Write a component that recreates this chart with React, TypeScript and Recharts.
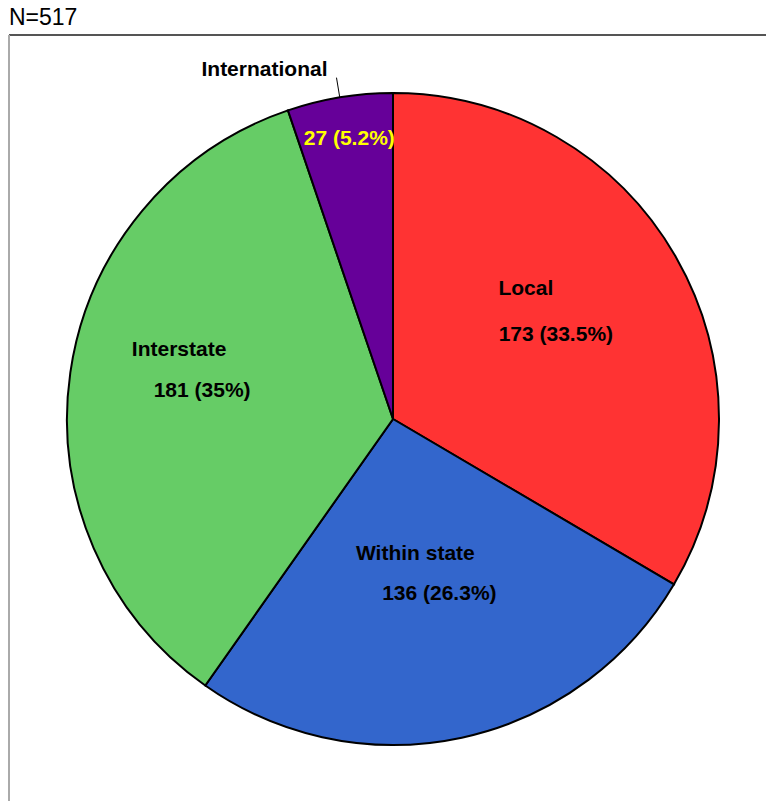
import React from 'react';
import { PieChart, Pie, Cell } from 'recharts';

// Trip destination breakdown
const categories = ['Local', 'Within state', 'Interstate', 'International'];
const counts = [173, 136, 181, 27];
const percentLabels = ['33.5%', '26.3%', '35%', '5.2%'];
const sliceColors = ['#FF3333', '#3366CC', '#66CC66', '#660099'];
const valueTextColors = ['#000000', '#000000', '#000000', '#FFFF00'];
const totalLabel = 'N=517';

const data = categories.map((name, i) => ({
  name,
  value: counts[i],
  pct: percentLabels[i],
}));

const FONT = '"Liberation Sans", Arial, Helvetica, sans-serif';
const RAD = Math.PI / 180;

// Per-slice label placement: anchor radius along the slice mid-angle, then
// offsets for the name line and the value line (dx, baseline dy).
type LabelLayout = {
  r: number;
  name: [number, number];
  value: [number, number];
  outsideName?: boolean;
};
const labelLayout: LabelLayout[] = [
  { r: 183, name: [-26, -33], value: [4, 13] },
  { r: 158, name: [-11, -13], value: [13, 27] },
  { r: 208, name: [-8, -33], value: [15, 8] },
  { r: 286, name: [-9, -1.5], value: [3, 8], outsideName: true },
];

const renderLabel = (props: any) => {
  const { cx, cy, midAngle, outerRadius, index } = props;
  const layout = labelLayout[index];
  const cos = Math.cos(-midAngle * RAD);
  const sin = Math.sin(-midAngle * RAD);
  const ax = cx + layout.r * cos;
  const ay = cy + layout.r * sin;
  const valueText = `${counts[index]} (${percentLabels[index]})`;
  const textStyle = { fontFamily: FONT, fontSize: 21, fontWeight: 700 } as const;

  if (layout.outsideName) {
    const x1 = cx + outerRadius * cos;
    const y1 = cy + outerRadius * sin;
    const x2 = cx + (outerRadius + 20) * cos;
    const y2 = cy + (outerRadius + 20) * sin;
    return (
      <g key={`lbl-${index}`}>
        <line x1={x1} y1={y1} x2={x2} y2={y2} stroke="#000" strokeWidth={1} />
        <text
          x={x2 + layout.name[0]}
          y={y2 + layout.name[1]}
          textAnchor="end"
          fill="#000"
          style={textStyle}
        >
          {categories[index]}
        </text>
        <text
          x={ax + layout.value[0]}
          y={ay + layout.value[1]}
          textAnchor="middle"
          fill={valueTextColors[index]}
          style={textStyle}
        >
          {valueText}
        </text>
      </g>
    );
  }

  return (
    <g key={`lbl-${index}`}>
      <text
        x={ax + layout.name[0]}
        y={ay + layout.name[1]}
        textAnchor="middle"
        fill="#000"
        style={textStyle}
      >
        {categories[index]}
      </text>
      <text
        x={ax + layout.value[0]}
        y={ay + layout.value[1]}
        textAnchor="middle"
        fill={valueTextColors[index]}
        style={textStyle}
      >
        {valueText}
      </text>
    </g>
  );
};

export default function App() {
  return (
    <div
      style={{
        position: 'absolute',
        left: 0,
        top: 0,
        width: 766,
        height: 801,
        background: '#fff',
        overflow: 'hidden',
      }}
    >
      <div
        style={{
          position: 'absolute',
          left: 9,
          top: 4,
          fontFamily: FONT,
          fontSize: 23,
          lineHeight: '27px',
          color: '#000',
        }}
      >
        {totalLabel}
      </div>
      {/* frame edges */}
      <div
        style={{
          position: 'absolute',
          left: 9,
          top: 34,
          width: 757,
          height: 2,
          background: '#555',
        }}
      />
      <div
        style={{
          position: 'absolute',
          left: 8,
          top: 35,
          width: 2,
          height: 766,
          background: '#aaa',
        }}
      />
      <div style={{ position: 'absolute', left: 0, top: 0 }}>
        <PieChart width={766} height={801} margin={{ top: 0, right: 0, bottom: 0, left: 0 }}>
          <Pie
            data={data}
            dataKey="value"
            nameKey="name"
            cx={393}
            cy={419}
            outerRadius={326}
            startAngle={90}
            endAngle={-270}
            stroke="#000"
            strokeWidth={2}
            label={renderLabel}
            labelLine={false}
            isAnimationActive={false}
          >
            {data.map((d, i) => (
              <Cell key={d.name} fill={sliceColors[i]} />
            ))}
          </Pie>
        </PieChart>
      </div>
    </div>
  );
}
